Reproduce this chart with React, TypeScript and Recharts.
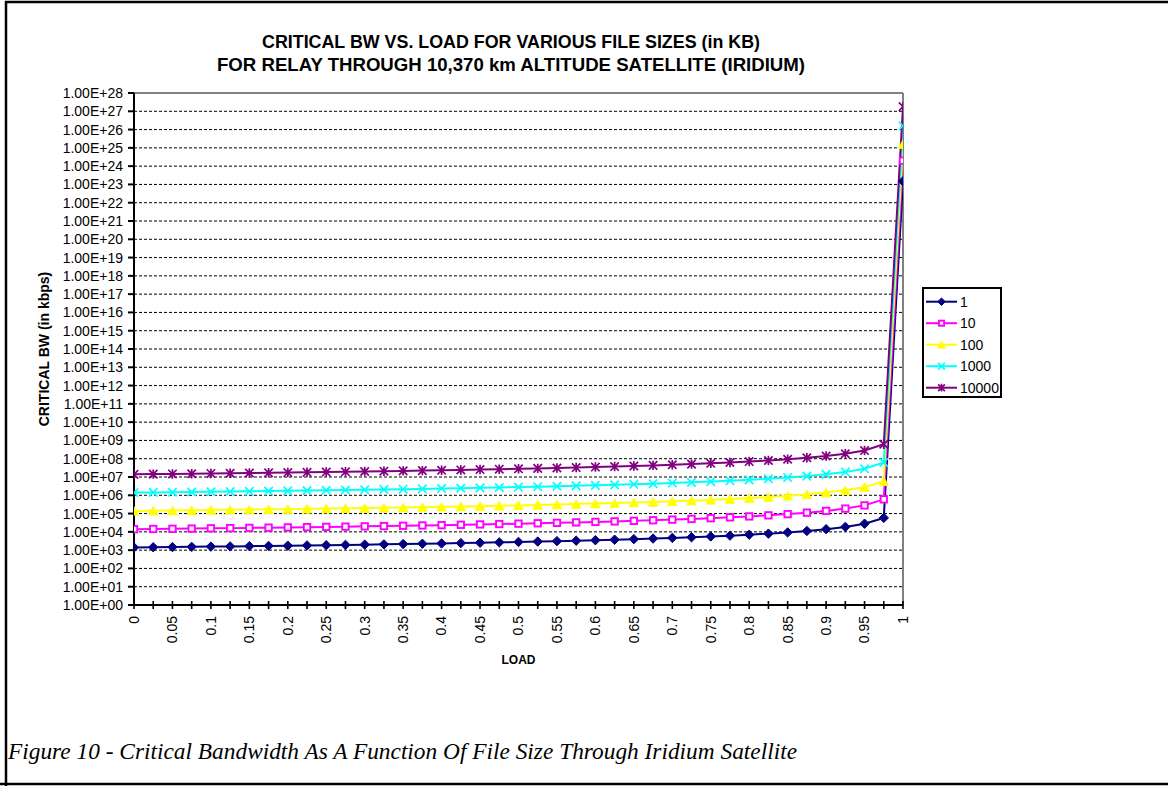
import React from 'react';
import { LineChart, Line, XAxis, YAxis, CartesianGrid, ReferenceLine } from 'recharts';

const loads = [0, 0.025, 0.05, 0.075, 0.1, 0.125, 0.15, 0.175, 0.2, 0.225, 0.25, 0.275, 0.3, 0.325, 0.35, 0.375, 0.4, 0.425, 0.45, 0.475, 0.5, 0.525, 0.55, 0.575, 0.6, 0.625, 0.65, 0.675, 0.7, 0.725, 0.75, 0.775, 0.8, 0.825, 0.85, 0.875, 0.9, 0.925, 0.95, 0.975, 1];

const s1 = [1400, 1440, 1470, 1510, 1560, 1600, 1650, 1700, 1750, 1810, 1870, 1930, 2000, 2070, 2150, 2240, 2330, 2430, 2550, 2670, 2800, 2950, 3110, 3290, 3500, 3730, 4000, 4310, 4670, 5090, 5600, 6220, 7000, 8000, 9330, 11200, 14000, 18700, 28000, 58000, 1.5e23];
const s10 = [1.4e4, 1.44e4, 1.47e4, 1.51e4, 1.56e4, 1.6e4, 1.65e4, 1.7e4, 1.75e4, 1.81e4, 1.87e4, 1.93e4, 2.0e4, 2.07e4, 2.15e4, 2.24e4, 2.33e4, 2.43e4, 2.55e4, 2.67e4, 2.8e4, 2.95e4, 3.11e4, 3.29e4, 3.5e4, 3.73e4, 4.0e4, 4.31e4, 4.67e4, 5.09e4, 5.6e4, 6.22e4, 7.0e4, 8.0e4, 9.33e4, 1.12e5, 1.4e5, 1.87e5, 2.8e5, 6.0e5, 2.0e24];
const s100 = [1.4e5, 1.44e5, 1.47e5, 1.51e5, 1.56e5, 1.6e5, 1.65e5, 1.7e5, 1.75e5, 1.81e5, 1.87e5, 1.93e5, 2.0e5, 2.07e5, 2.15e5, 2.24e5, 2.33e5, 2.43e5, 2.55e5, 2.67e5, 2.8e5, 2.95e5, 3.11e5, 3.29e5, 3.5e5, 3.73e5, 4.0e5, 4.31e5, 4.67e5, 5.09e5, 5.6e5, 6.22e5, 7.0e5, 8.0e5, 9.33e5, 1.12e6, 1.4e6, 1.87e6, 2.8e6, 5.8e6, 1.6e25];
const s1000 = [1.4e6, 1.44e6, 1.47e6, 1.51e6, 1.56e6, 1.6e6, 1.65e6, 1.7e6, 1.75e6, 1.81e6, 1.87e6, 1.93e6, 2.0e6, 2.07e6, 2.15e6, 2.24e6, 2.33e6, 2.43e6, 2.55e6, 2.67e6, 2.8e6, 2.95e6, 3.11e6, 3.29e6, 3.5e6, 3.73e6, 4.0e6, 4.31e6, 4.67e6, 5.09e6, 5.6e6, 6.22e6, 7.0e6, 8.0e6, 9.33e6, 1.12e7, 1.4e7, 1.87e7, 2.8e7, 6.2e7, 1.6e26];
const s10000 = [1.4e7, 1.44e7, 1.47e7, 1.51e7, 1.56e7, 1.6e7, 1.65e7, 1.7e7, 1.75e7, 1.81e7, 1.87e7, 1.93e7, 2.0e7, 2.07e7, 2.15e7, 2.24e7, 2.33e7, 2.43e7, 2.55e7, 2.67e7, 2.8e7, 2.95e7, 3.11e7, 3.29e7, 3.5e7, 3.73e7, 4.0e7, 4.31e7, 4.67e7, 5.09e7, 5.6e7, 6.22e7, 7.0e7, 8.0e7, 9.33e7, 1.12e8, 1.4e8, 1.87e8, 2.8e8, 6.2e8, 1.8e27];

const seriesNames = ['1', '10', '100', '1000', '10000'];
const seriesValues = [s1, s10, s100, s1000, s10000];
const seriesColors = ['#000080', '#FF00FF', '#FFFF00', '#00FFFF', '#800080'];
const seriesMarkers = ['diamond', 'square', 'triangle', 'x', 'star'];

const yTicks = [1, 1e1, 1e2, 1e3, 1e4, 1e5, 1e6, 1e7, 1e8, 1e9, 1e10, 1e11, 1e12, 1e13, 1e14, 1e15, 1e16, 1e17, 1e18, 1e19, 1e20, 1e21, 1e22, 1e23, 1e24, 1e25, 1e26, 1e27, 1e28];

const titleLines = ['CRITICAL BW VS. LOAD FOR VARIOUS FILE SIZES (in KB)', 'FOR RELAY THROUGH 10,370 km ALTITUDE SATELLITE (IRIDIUM)'];
const xTitle = 'LOAD';
const yTitle = 'CRITICAL BW (in kbps)';
const caption = 'Figure 10 - Critical Bandwidth As A Function Of File Size Through Iridium Satellite';

const rows = loads.map((l, i) => {
  const r: any = { load: l };
  seriesNames.forEach((n, k) => { r['s' + n] = seriesValues[k][i]; });
  return r;
});

const FONT = '"Liberation Sans", Arial, sans-serif';

const fmtY = (v: number) => {
  const e = Math.round(Math.log10(v));
  return '1.00E+' + (e < 10 ? '0' + e : String(e));
};

function Marker({ kind, color, cx, cy, s = 1 }: any) {
  if (cx == null || cy == null) return null;
  if (kind === 'diamond') {
    const h = 4.7 * s;
    return <polygon points={`${cx},${cy - h} ${cx + h},${cy} ${cx},${cy + h} ${cx - h},${cy}`} fill={color} stroke={color} strokeWidth={1} />;
  }
  if (kind === 'square') {
    const h = 3.2 * s;
    return <rect x={cx - h} y={cy - h} width={2 * h} height={2 * h} fill="#fff" stroke={color} strokeWidth={1.9} />;
  }
  if (kind === 'triangle') {
    const w = 4.7 * s;
    const hh = 4.2 * s;
    return <polygon points={`${cx},${cy - hh} ${cx + w},${cy + hh} ${cx - w},${cy + hh}`} fill={color} stroke={color} strokeWidth={1} />;
  }
  if (kind === 'x') {
    const h = 4.2 * s;
    return <path d={`M${cx - h},${cy - h}L${cx + h},${cy + h}M${cx - h},${cy + h}L${cx + h},${cy - h}`} stroke={color} strokeWidth={1.7} fill="none" />;
  }
  const h = 4.2 * s;
  return <path d={`M${cx - h},${cy - h}L${cx + h},${cy + h}M${cx - h},${cy + h}L${cx + h},${cy - h}M${cx},${cy - h - 0.5}L${cx},${cy + h + 0.5}`} stroke={color} strokeWidth={1.7} fill="none" />;
}

function XTick(props: any) {
  const { x, y, payload } = props;
  const v = payload.value;
  const showLabel = Math.round(v * 1000) % 50 === 0;
  return (
    <g>
      <line x1={x} y1={y - 4} x2={x} y2={y + 4} stroke="#000" strokeWidth={1.6} />
      {showLabel && (
        <text x={x} y={y + 11} transform={`rotate(-90, ${x}, ${y + 11})`} textAnchor="end" dy="0.35em" fontSize={14} fontFamily={FONT} fill="#000">
          {String(v)}
        </text>
      )}
    </g>
  );
}

export default function App() {
  const plotLeft = 134;
  const plotRight = 903;
  const plotTop = 93;
  const plotBottom = 605;
  return (
    <div style={{ position: 'absolute', left: 0, top: 0, width: 1168, height: 786, background: '#fff', overflow: 'hidden' }}>
      <LineChart width={1168} height={786} data={rows} margin={{ top: plotTop, right: 1168 - plotRight, bottom: 786 - plotBottom - 40, left: plotLeft - 100 }}>
        <CartesianGrid horizontal vertical={false} stroke="#000" strokeDasharray="3 2" strokeWidth={1} />
        <XAxis dataKey="load" type="number" domain={[0, 1]} ticks={loads} interval={0} tick={<XTick />} tickLine={false} tickSize={0} tickMargin={0} height={40} axisLine={{ stroke: '#000', strokeWidth: 2 }} allowDataOverflow />
        <YAxis scale="log" domain={[1, 1e28]} ticks={yTicks} interval={0} tickFormatter={fmtY} width={100} tickSize={6} tickMargin={5} axisLine={{ stroke: '#000', strokeWidth: 2 }} tickLine={{ stroke: '#000', strokeWidth: 2 }} tick={{ fill: '#000', fontSize: 14, fontFamily: FONT }} allowDataOverflow />
        <ReferenceLine y={1e28} stroke="#808080" strokeWidth={2} />
        <ReferenceLine x={1} stroke="#808080" strokeWidth={2} />
        {seriesNames.map((n, k) => (
          <Line
            key={n}
            type="linear"
            dataKey={'s' + n}
            name={n}
            stroke={seriesColors[k]}
            strokeWidth={2}
            isAnimationActive={false}
            activeDot={false}
            dot={(p: any) => <Marker key={'m' + k + '-' + p.index} kind={seriesMarkers[k]} color={seriesColors[k]} cx={p.cx} cy={p.cy} />}
          />
        ))}
      </LineChart>
      <svg width={1168} height={786} style={{ position: 'absolute', left: 0, top: 0, pointerEvents: 'none' }}>
        <path d="M6,786 L6,2 L1168,2" stroke="#000" strokeWidth={2.5} fill="none" />
        <line x1={0} y1={784} x2={1168} y2={784} stroke="#000" strokeWidth={2.5} />
        <text x={511} y={48} textAnchor="middle" fontSize={18} fontWeight="bold" fontFamily={FONT} textLength={498} lengthAdjust="spacingAndGlyphs">{titleLines[0]}</text>
        <text x={511} y={71} textAnchor="middle" fontSize={18} fontWeight="bold" fontFamily={FONT} textLength={588} lengthAdjust="spacingAndGlyphs">{titleLines[1]}</text>
        <text x={(plotLeft + plotRight) / 2} y={664} textAnchor="middle" fontSize={12} fontWeight="bold" fontFamily={FONT}>{xTitle}</text>
        <text x={44} y={(plotTop + plotBottom) / 2} transform={`rotate(-90, 44, ${(plotTop + plotBottom) / 2})`} textAnchor="middle" dy="0.35em" fontSize={14} fontWeight="bold" fontFamily={FONT}>{yTitle}</text>
        <rect x={923} y={288} width={78} height={109} fill="#fff" stroke="#000" strokeWidth={2} />
        {seriesNames.map((n, k) => {
          const cy = 301.7 + k * 21.5;
          return (
            <g key={'lg' + n}>
              <line x1={926} y1={cy} x2={957} y2={cy} stroke={seriesColors[k]} strokeWidth={2} />
              <Marker kind={seriesMarkers[k]} color={seriesColors[k]} cx={941.5} cy={cy} s={0.8} />
              <text x={960} y={cy} dy="0.35em" fontSize={14} fontFamily={FONT} fill="#000">{n}</text>
            </g>
          );
        })}
        <text x={8} y={759} fontSize={24} fontStyle="italic" fontFamily='"Liberation Serif", "Times New Roman", serif' textLength={789} lengthAdjust="spacingAndGlyphs">{caption}</text>
      </svg>
    </div>
  );
}
